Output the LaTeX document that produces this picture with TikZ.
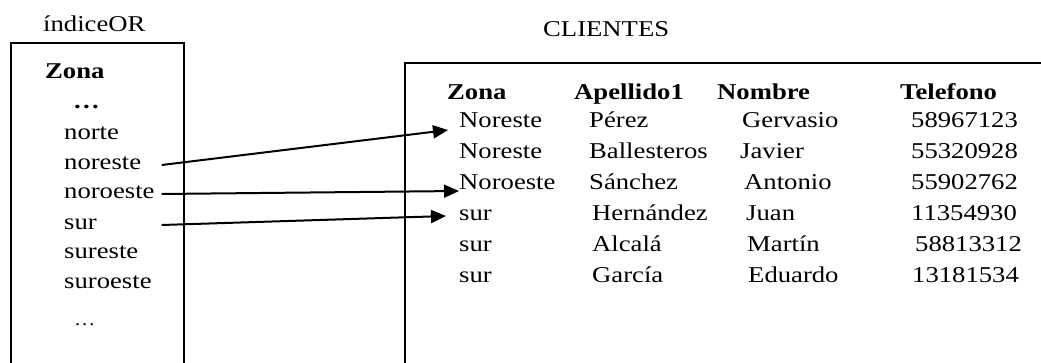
\documentclass[tikz,border=0pt]{standalone}
\usepackage{fontspec}
\setmainfont{Liberation Serif}[FakeStretch=1.18]
\usetikzlibrary{arrows.meta}

\begin{document}
\begin{tikzpicture}[x=1pt, y=-1pt,
  cell/.style={inner sep=0pt, anchor=base west, text height=15pt, text depth=5pt,
    font=\fontsize{22.6}{27}\selectfont},
  head/.style={cell, font=\fontsize{22.6}{27}\selectfont\bfseries},
  link/.style={line width=2pt, -{Triangle[length=15pt, width=13pt]}}]
\useasboundingbox (0,0) rectangle (1041,363);
\clip (0,0) rectangle (1041,363);

% index box
\node[cell] (idxname) at (43,32) {índiceOR};
\draw[line width=2pt] (10.7,42.7) rectangle (184,400);
\node[head] (izona) at (45,79) {Zona};
\node[head] (idotsa) at (73,109) {…};
\node[cell] (norte) at (64,140) {norte};
\node[cell] (noreste) at (64,170) {noreste};
\node[cell] (noroeste) at (64,199) {noroeste};
\node[cell] (sur) at (64,230) {sur};
\node[cell] (sureste) at (64,259) {sureste};
\node[cell] (suroeste) at (64,289) {suroeste};
\node[cell, font=\fontsize{18}{20}\selectfont] (idotsb) at (74,325) {…};

% table box
\node[cell] (tabname) at (543,37) {CLIENTES};
\draw[line width=2.5pt] (405,63) rectangle (1100,400);
\node[head] (hzona) at (447,100) {Zona};
\node[head] (hape) at (574,100) {Apellido1};
\node[head] (hnom) at (717,100) {Nombre};
\node[head] (htel) at (900,100) {Telefono};

\node[cell] (zona1) at (459,128) {Noreste};
\node[cell] at (589,128) {Pérez};
\node[cell] at (742,128) {Gervasio};
\node[cell] at (911,128) {58967123};

\node[cell] (zona2) at (459,159) {Noreste};
\node[cell] at (589,159) {Ballesteros};
\node[cell] at (740,159) {Javier};
\node[cell] at (911,159) {55320928};

\node[cell] (zona3) at (459,190) {Noroeste};
\node[cell] at (589,190) {Sánchez};
\node[cell] at (744,190) {Antonio};
\node[cell] at (911,190) {55902762};

\node[cell] (zona4) at (459,221) {sur};
\node[cell] at (592,221) {Hernández};
\node[cell] at (746,221) {Juan};
\node[cell] at (911,221) {11354930};

\node[cell] (zona5) at (459,252) {sur};
\node[cell] at (592,252) {Alcalá};
\node[cell] at (747,252) {Martín};
\node[cell] at (915,252) {58813312};

\node[cell] (zona6) at (459,283) {sur};
\node[cell] at (592,283) {García};
\node[cell] at (748,283) {Eduardo};
\node[cell] at (912,283) {13181534};

% pointers
\coordinate (tailx) at (161.7,0);
\draw[link] (noreste -| tailx) -- ([shift={(-11pt,-7pt)}]zona1.west);
\draw[link] (noroeste -| tailx) -- ([shift={(0pt,-6pt)}]zona3.west);
\draw[link] (sur -| tailx) -- ([xshift=-13pt]zona4.west);
\end{tikzpicture}
\end{document}
